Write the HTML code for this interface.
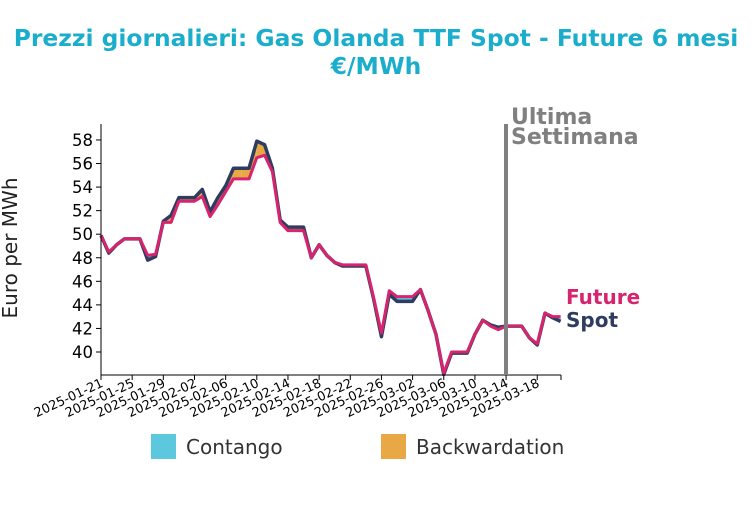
<!DOCTYPE html>
<html><head><meta charset="utf-8"><style>
body{margin:0;background:#fff;font-family:"Liberation Sans","DejaVu Sans",sans-serif}
</style></head><body>
<svg id="c" width="752" height="505" xmlns="http://www.w3.org/2000/svg" style="font-family:'DejaVu Sans','Liberation Sans',sans-serif">
<text x="376" y="46" text-anchor="middle" font-size="23.4" font-weight="bold" fill="#1aaecc">Prezzi giornalieri: Gas Olanda TTF Spot - Future 6 mesi</text>
<text x="376" y="74" text-anchor="middle" font-size="23.4" font-weight="bold" fill="#1aaecc">€/MWh</text>
<text transform="translate(17,248) rotate(-90)" text-anchor="middle" font-size="20" fill="#222">Euro per MWh</text>
<g id="fills"></g><g id="lines"></g><g id="axes"></g>
<line x1="506" y1="124" x2="506" y2="375" stroke="#808080" stroke-width="4"/>
<text x="511" y="124" font-size="22" font-weight="bold" fill="#808080">Ultima</text>
<text x="511" y="144" font-size="22" font-weight="bold" fill="#808080">Settimana</text>
<text x="566" y="304" font-size="20" font-weight="bold" fill="#d6246e">Future</text>
<text x="566" y="327" font-size="20" font-weight="bold" fill="#2e3d5f">Spot</text>
<rect x="151" y="434" width="25" height="25" fill="#5bc8dd"/>
<text x="186" y="454" font-size="20" fill="#333">Contango</text>
<rect x="381" y="434" width="25" height="25" fill="#e8a845"/>
<text x="416" y="454" font-size="20" fill="#333">Backwardation</text>
</svg>
<script>
const spot=[49.9,48.4,49.1,49.6,49.6,49.6,47.8,48.1,51.1,51.6,53.1,53.1,53.1,53.8,51.9,53.1,54.1,55.6,55.6,55.6,57.9,57.6,55.6,51.2,50.6,50.6,50.6,48.0,49.1,48.2,47.6,47.3,47.3,47.3,47.3,44.5,41.3,44.9,44.3,44.3,44.3,45.3,43.5,41.5,38.1,39.9,39.9,39.9,41.5,42.7,42.3,42.1,42.2,42.2,42.2,41.2,40.6,43.3,42.9,42.6];
const future=[49.9,48.5,49.1,49.6,49.6,49.6,48.2,48.3,51.0,51.0,52.8,52.8,52.8,53.2,51.5,52.5,53.6,54.7,54.7,54.7,56.5,56.7,55.3,51.0,50.3,50.3,50.3,48.0,49.1,48.2,47.6,47.4,47.4,47.4,47.4,44.6,41.6,45.2,44.7,44.7,44.7,45.3,43.5,41.5,38.2,40.0,40.0,40.0,41.5,42.7,42.2,41.9,42.2,42.2,42.2,41.2,40.7,43.3,43.0,43.0];
const yTicks=[40,42,44,46,48,50,52,54,56,58];
const xLabels=["2025-01-21","2025-01-25","2025-01-29","2025-02-02","2025-02-06","2025-02-10","2025-02-14","2025-02-18","2025-02-22","2025-02-26","2025-03-02","2025-03-06","2025-03-10","2025-03-14","2025-03-18"];
const NS="http://www.w3.org/2000/svg";
const X=i=>101+i*7.79, Y=v=>352-(v-40)*11.78;
function mk(t,a,p){const e=document.createElementNS(NS,t);for(const k in a)e.setAttribute(k,a[k]);p.appendChild(e);return e;}
const F=document.getElementById('fills'),L=document.getElementById('lines'),A=document.getElementById('axes');
for(let i=0;i<spot.length-1;i++){
 const d0=spot[i]-future[i],d1=spot[i+1]-future[i+1];
 const quad=(a,b,sa,sb,fa,fb,col)=>{const p=mk('polygon',{points:`${X(a)},${Y(sa)} ${X(b)},${Y(sb)} ${X(b)},${Y(fb)} ${X(a)},${Y(fa)}`,fill:col},F);
 
 };
 const col=d=>d>=0?'#e8a845':'#5bc8dd';
 if(d0*d1<0){const t=d0/(d0-d1),m=i+t,sm=spot[i]+t*(spot[i+1]-spot[i]);
  quad(i,m,spot[i],sm,future[i],sm,col(d0));quad(m,i+1,sm,spot[i+1],sm,future[i+1],col(d1));}
 else quad(i,i+1,spot[i],spot[i+1],future[i],future[i+1],col(d0+d1));
}
const pts=a=>a.map((v,i)=>X(i)+','+Y(v)).join(' ');
const ls=mk('polyline',{points:pts(spot),fill:'none',stroke:'#2e3d5f','stroke-width':3.5,'stroke-linejoin':'round'},L);


const lf=mk('polyline',{points:pts(future),fill:'none',stroke:'#d6246e','stroke-width':3,'stroke-linejoin':'round'},L);


const ax=mk('path',{d:'M101,124 V375 H561',fill:'none',stroke:'#000','stroke-width':1},A);


yTicks.forEach(v=>{mk('line',{x1:96,x2:101,y1:Y(v),y2:Y(v),stroke:'#000'},A);
 const t=mk('text',{x:93,y:Y(v)+6,'text-anchor':'end','font-size':16.5,fill:'#000'},A);t.textContent=v;
 
 });
xLabels.forEach((s,k)=>{const x=X(k*4);mk('line',{x1:x,x2:x,y1:375,y2:380,stroke:'#000'},A);
 const t=mk('text',{transform:`translate(${x+3},${386}) rotate(-25)`,'text-anchor':'end','font-size':12.8,fill:'#000'},A);t.textContent=s;
 
 });
mk('line',{x1:561,x2:561,y1:375,y2:380,stroke:'#000'},A);
</script>
</body></html>
